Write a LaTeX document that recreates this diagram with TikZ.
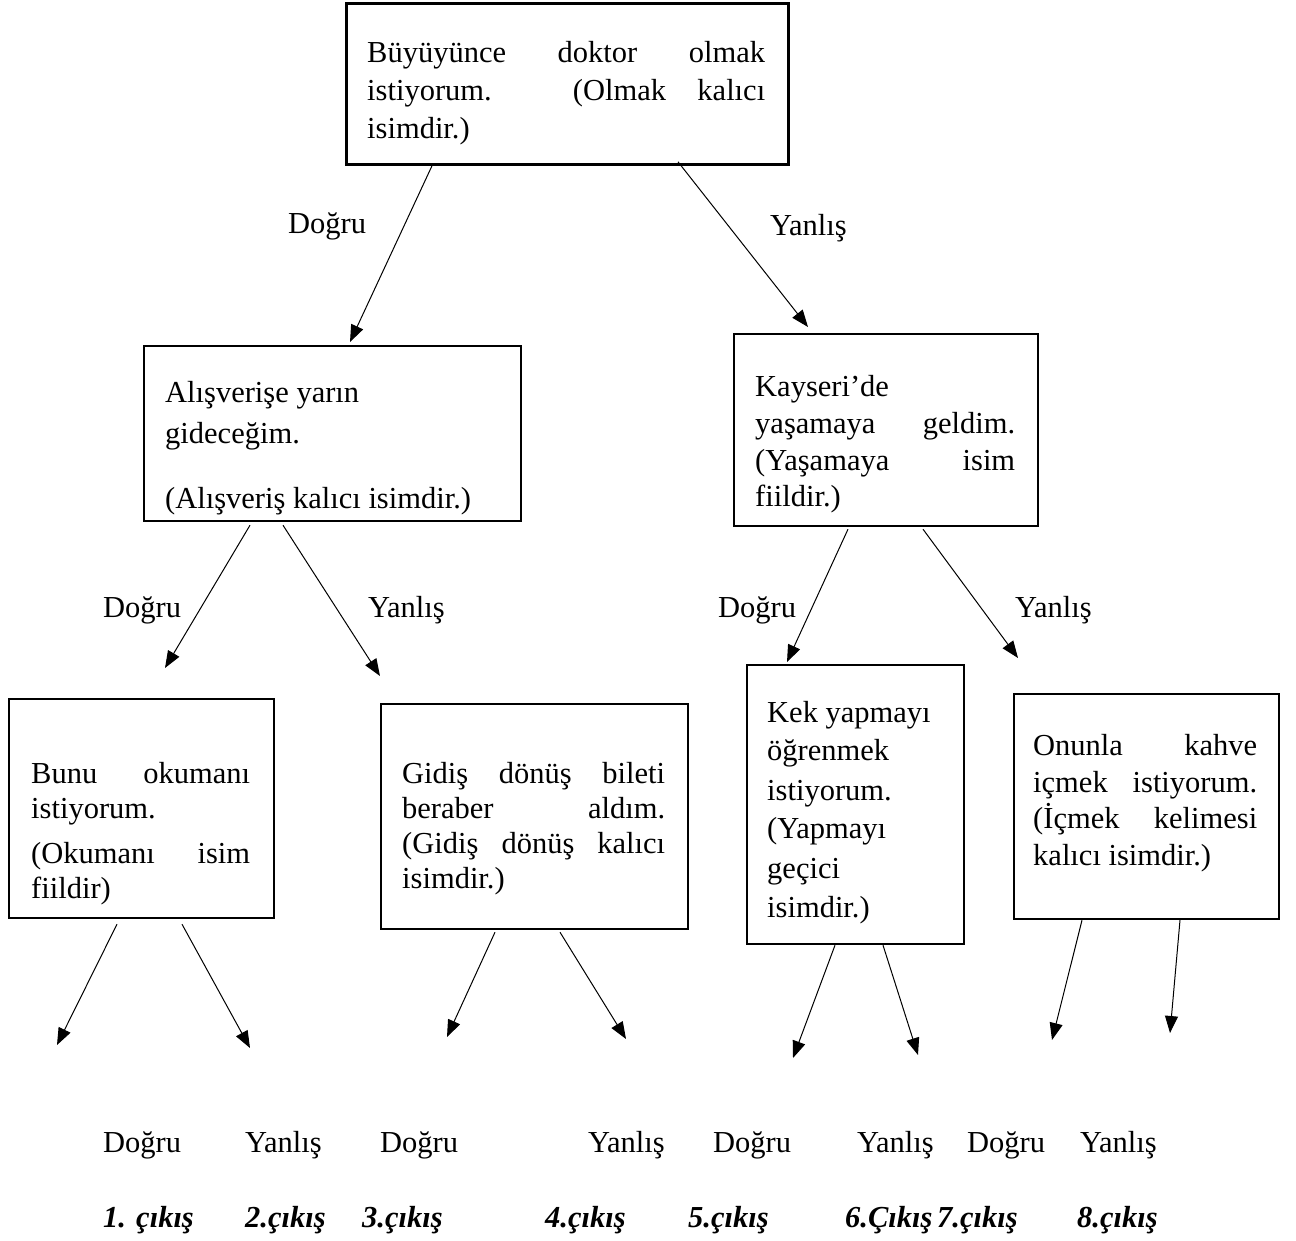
\documentclass[tikz,border=0pt]{standalone}
\usepackage{fontspec}
\setmainfont{Liberation Serif}
\usetikzlibrary{arrows.meta}
\newcommand{\jline}[2]{\makebox[#1][s]{#2}}
\tikzset{
  box/.style={draw, line width=2.2pt, inner sep=0pt, anchor=north west},
  txt/.style={anchor=base west, inner sep=0pt, font=\fontsize{30.5}{36}\selectfont},
  outc/.style={txt, font=\fontsize{30.5}{36}\selectfont\bfseries\itshape},
  arr/.style={line width=1pt, -{Triangle[length=17pt,width=13pt]}}
}
\begin{document}
\begin{tikzpicture}[x=1pt,y=-1pt]
\fill[white] (0,0) rectangle (1296,1240);
\useasboundingbox (0,0) rectangle (1296,1240);

% boxes
\node[box, line width=2.8pt, minimum width=442pt, minimum height=161pt] (b1) at (345,2) {};
\node[box, minimum width=377pt, minimum height=175pt] (b2) at (143,345) {};
\node[box, minimum width=304pt, minimum height=192pt] (b3) at (733,333) {};
\node[box, minimum width=265pt, minimum height=219pt] (b4) at (8,698) {};
\node[box, minimum width=307pt, minimum height=225pt] (b5) at (380,703) {};
\node[box, minimum width=217pt, minimum height=279pt] (b6) at (746,664) {};
\node[box, minimum width=265pt, minimum height=225pt] (b7) at (1013,693) {};

% texts of box 1
\node[txt] (b1l1) at (367,62) {\jline{398pt}{Büyüyünce doktor olmak}};
\node[txt] (b1l2) at (367,100) {\jline{398pt}{istiyorum. (Olmak kalıcı}};
\node[txt] (b1l3) at (367,138) {isimdir.)};
% box 2
\node[txt] (b2l1) at (165,402) {Alışverişe yarın};
\node[txt] (b2l2) at (165,443) {gideceğim.};
\node[txt] (b2l3) at (165,508) {(Alışveriş kalıcı isimdir.)};
% box 3
\node[txt] (b3l1) at (755,396) {Kayseri’de};
\node[txt] (b3l2) at (755,433) {\jline{260pt}{yaşamaya geldim.}};
\node[txt] (b3l3) at (755,470) {\jline{260pt}{(Yaşamaya isim}};
\node[txt] (b3l4) at (755,506) {fiildir.)};
% box 4
\node[txt] (b4l1) at (31,783) {\jline{219pt}{Bunu okumanı}};
\node[txt] (b4l2) at (31,818) {istiyorum.};
\node[txt] (b4l3) at (31,863) {\jline{219pt}{(Okumanı isim}};
\node[txt] (b4l4) at (31,898) {fiildir)};
% box 5
\node[txt] (b5l1) at (402,783) {\jline{263pt}{Gidiş dönüş bileti}};
\node[txt] (b5l2) at (402,818) {\jline{263pt}{beraber aldım.}};
\node[txt] (b5l3) at (402,853) {\jline{263pt}{(Gidiş dönüş kalıcı}};
\node[txt] (b5l4) at (402,888) {isimdir.)};
% box 6
\node[txt] (b6l1) at (767,722) {Kek yapmayı};
\node[txt] (b6l2) at (767,760) {öğrenmek};
\node[txt] (b6l3) at (767,800) {istiyorum.};
\node[txt] (b6l4) at (767,838) {(Yapmayı};
\node[txt] (b6l5) at (767,878) {geçici};
\node[txt] (b6l6) at (767,917) {isimdir.)};
% box 7
\node[txt] (b7l1) at (1033,755) {\jline{224pt}{Onunla kahve}};
\node[txt] (b7l2) at (1033,792) {\jline{224pt}{içmek istiyorum.}};
\node[txt] (b7l3) at (1033,828) {\jline{224pt}{(İçmek kelimesi}};
\node[txt] (b7l4) at (1033,865) {kalıcı isimdir.)};

% connectors between boxes
\draw[arr] ([xshift=87pt]b1.south west) -- ([xshift=207pt,yshift=3pt]b2.north west);
\draw[arr] ([xshift=333pt,yshift=4pt]b1.south west) -- ([xshift=75pt,yshift=6pt]b3.north west);
\draw[arr] ([xshift=107pt,yshift=-3pt]b2.south west) -- ([xshift=157pt,yshift=30pt]b4.north west);
\draw[arr] ([xshift=140pt,yshift=-3pt]b2.south west) -- ([xshift=0pt,yshift=27pt]b5.north west);
\draw[arr] ([xshift=115pt,yshift=-2pt]b3.south west) -- ([xshift=41pt,yshift=2pt]b6.north west);
\draw[arr] ([xshift=190pt,yshift=-2pt]b3.south west) -- ([xshift=5pt,yshift=35pt]b7.north west);

% free ends of the final arrows
\coordinate (c1) at (57,1045);
\coordinate (c2) at (250,1048);
\coordinate (c3) at (447,1037);
\coordinate (c4) at (626,1039);
\coordinate (c5) at (793,1058);
\coordinate (c6) at (918,1055);
\coordinate (c7) at (1052,1040);
\coordinate (c8) at (1170,1033);
\draw[arr] ([xshift=109pt,yshift=-5pt]b4.south west) -- (c1);
\draw[arr] ([xshift=174pt,yshift=-5pt]b4.south west) -- (c2);
\draw[arr] ([xshift=115pt,yshift=-2pt]b5.south west) -- (c3);
\draw[arr] ([xshift=180pt,yshift=-2pt]b5.south west) -- (c4);
\draw[arr] ([xshift=89pt]b6.south west) -- (c5);
\draw[arr] ([xshift=137pt]b6.south west) -- (c6);
\draw[arr] ([xshift=69pt]b7.south west) -- (c7);
\draw[arr] ([xshift=167pt]b7.south west) -- (c8);

% branch labels
\node[txt] (l1) at (288,233) {Doğru};
\node[txt] (l2) at (770,235) {Yanlış};
\node[txt] (l3) at (103,617) {Doğru};
\node[txt] (l4) at (368,617) {Yanlış};
\node[txt] (l5) at (718,617) {Doğru};
\node[txt] (l6) at (1015,617) {Yanlış};

% bottom row
\node[txt] (r1) at (103,1152) {Doğru};
\node[txt] (r2) at (245,1152) {Yanlış};
\node[txt] (r3) at (380,1152) {Doğru};
\node[txt] (r4) at (588,1152) {Yanlış};
\node[txt] (r5) at (713,1152) {Doğru};
\node[txt] (r6) at (857,1152) {Yanlış};
\node[txt] (r7) at (967,1152) {Doğru};
\node[txt] (r8) at (1080,1152) {Yanlış};

\node[outc] (o1) at (103,1227) {1. çıkış};
\node[outc] (o2) at (245,1227) {2.çıkış};
\node[outc] (o3) at (362,1227) {3.çıkış};
\node[outc] (o4) at (545,1227) {4.çıkış};
\node[outc] (o5) at (688,1227) {5.çıkış};
\node[outc] (o6) at (845,1227) {6.Çıkış};
\node[outc] (o7) at (937,1227) {7.çıkış};
\node[outc] (o8) at (1077,1227) {8.çıkış};
\end{tikzpicture}
\end{document}
